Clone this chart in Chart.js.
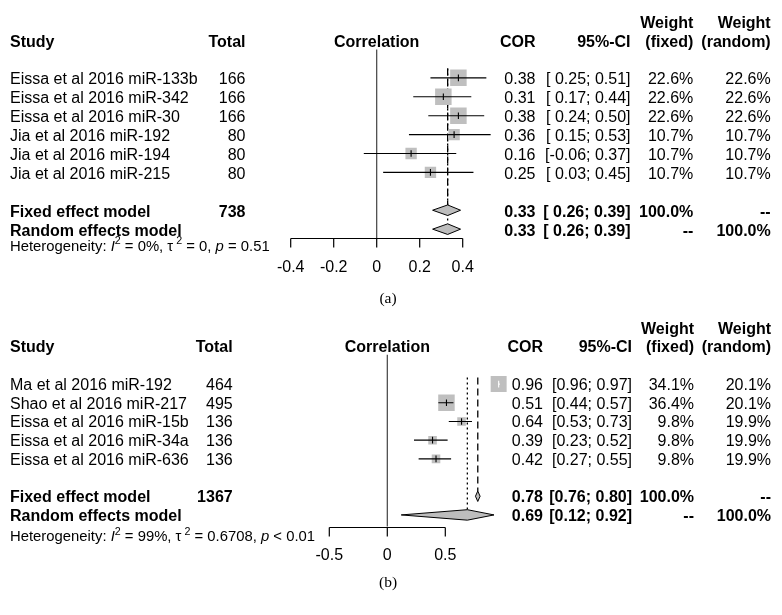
<!DOCTYPE html>
<html><head><meta charset="utf-8">
<script src="https://cdn.jsdelivr.net/npm/chart.js@4.4.1/dist/chart.umd.min.js"></script>
<style>
html,body{margin:0;padding:0;background:#fff;}
#wrap{position:relative;width:782px;height:615px;overflow:hidden;}
canvas{position:absolute;left:0;}
</style></head><body>
<div id="wrap">
<canvas id="cA" width="782" height="307" style="top:0px"></canvas>
<canvas id="cB" width="782" height="308" style="top:307px"></canvas>
</div>
<script>
// ---------- Panel (a) data ----------
const studiesA = ["Eissa et al 2016 miR-133b", "Eissa et al 2016 miR-342", "Eissa et al 2016 miR-30",
                  "Jia et al 2016 miR-192", "Jia et al 2016 miR-194", "Jia et al 2016 miR-215"];
const totalA   = [166, 166, 166, 80, 80, 80];
const corA     = [0.38, 0.31, 0.38, 0.36, 0.16, 0.25];
const lowerA   = [0.25, 0.17, 0.24, 0.15, -0.06, 0.03];
const upperA   = [0.51, 0.44, 0.50, 0.53, 0.37, 0.45];
const wFixedA  = [22.6, 22.6, 22.6, 10.7, 10.7, 10.7];
const wRandomA = [22.6, 22.6, 22.6, 10.7, 10.7, 10.7];
const fixedA   = [0.33, 0.26, 0.39];   // estimate, lower, upper
const randomA  = [0.33, 0.26, 0.39];
const totalFixedA = 738;
const ticksA   = [-0.4, -0.2, 0, 0.2, 0.4];
const hetA     = ["0%", "0", "= 0.51"];  // I^2, tau^2, p

// ---------- Panel (b) data ----------
const studiesB = ["Ma et al 2016 miR-192", "Shao et al 2016 miR-217", "Eissa et al 2016 miR-15b",
                  "Eissa et al 2016 miR-34a", "Eissa et al 2016 miR-636"];
const totalB   = [464, 495, 136, 136, 136];
const corB     = [0.96, 0.51, 0.64, 0.39, 0.42];
const lowerB   = [0.96, 0.44, 0.53, 0.23, 0.27];
const upperB   = [0.97, 0.57, 0.73, 0.52, 0.55];
const wFixedB  = [34.1, 36.4, 9.8, 9.8, 9.8];
const wRandomB = [20.1, 20.1, 19.9, 19.9, 19.9];
const fixedB   = [0.78, 0.76, 0.80];
const randomB  = [0.69, 0.12, 0.92];
const totalFixedB = 1367;
const ticksB   = [-0.5, 0, 0.5];
const hetB     = ["99%", "0.6708", "< 0.01"];

// ---------- styling / layout ----------
const SANS = '"Liberation Sans", Arial, Helvetica, sans-serif';
const SERIF = '"Liberation Serif", "Times New Roman", serif';
const FS = 16, FS_HET = 14.85;
const MAXBOX = 16.5;      // px side of the largest box
const DH = 0.28;          // diamond half-height in row units
const BOX_COL = '#bfbfbf', DIA_COL = '#bdbdbd';

const panelA = {
  canvas: 'cA', H: 307, caption: '(a)',
  studies: studiesA, totals: totalA, cor: corA, lower: lowerA, upper: upperA,
  wFixed: wFixedA, wRandom: wRandomA, fixed: fixedA, random: randomA,
  totalFixed: totalFixedA, ticks: ticksA, het: hetA,
  zeroPx: 376.7, ppu: 215, xMin: -0.5, xMax: 0.6,
  row0: 74.6, step: 19.45, yMin: -3.5, yMax: 11.5,
  axisRow: 8.48, tickLabelRow: 9.94, hetRow: 8.85, captionY: 297,
  refTop: -0.5, zeroTop: -1.5, textDy: 0.8, padCI: true,
  cols: {total: 245.5, cor: 535.5, ci: 630.5, wf: 693.3, wr: 770.7}
};
const panelB = {
  canvas: 'cB', H: 308, caption: '(b)',
  studies: studiesB, totals: totalB, cor: corB, lower: lowerB, upper: upperB,
  wFixed: wFixedB, wRandom: wRandomB, fixed: fixedB, random: randomB,
  totalFixed: totalFixedB, ticks: ticksB, het: hetB,
  zeroPx: 387.3, ppu: 116, xMin: -0.6, xMax: 1.05,
  row0: 74.7, step: 18.9, yMin: -3.5, yMax: 11.5,
  axisRow: 7.62, tickLabelRow: 9.13, hetRow: 8.1, captionY: 274.7,
  refTop: -0.35, zeroTop: -1.57, textDy: 0, padCI: false,
  cols: {total: 232.7, cor: 543, ci: 632, wf: 694, wr: 771}
};

function f2(v) { return v.toFixed(2); }
function ciText(lo, hi, pad) { return '[' + (pad && lo >= 0 ? ' ' : '') + f2(lo) + '; ' + f2(hi) + ']'; }

function makePlugin(P) {
  return {
    id: 'forestText',
    afterDatasetsDraw(chart) {
      const ctx = chart.ctx, xs = chart.scales.x, ys = chart.scales.y;
      const n = P.studies.length, fr = n + 1, rr = n + 2;
      ctx.save();
      ctx.fillStyle = '#000';
      function txt(s, x, row, align, bold, size, family, yAbs) {
        size = size || FS;
        ctx.font = (bold ? 'bold ' : '') + size + 'px ' + (family || SANS);
        ctx.textAlign = align; ctx.textBaseline = 'alphabetic';
        const y = yAbs !== undefined ? yAbs : ys.getPixelForValue(row) + P.textDy;
        ctx.fillText(s, x, y + 0.358 * size);
      }
      const C = P.cols;
      // headers
      txt('Study', 10, -2, 'left', true);
      txt('Total', C.total, -2, 'right', true);
      txt('Correlation', xs.getPixelForValue(0), -2, 'center', true);
      txt('COR', C.cor, -2, 'right', true);
      txt('95%-CI', C.ci, -2, 'right', true);
      txt('Weight', C.wf, -3, 'right', true);
      txt('(fixed)', C.wf, -2, 'right', true);
      txt('Weight', C.wr, -3, 'right', true);
      txt('(random)', C.wr, -2, 'right', true);
      // study rows
      for (let i = 0; i < n; i++) {
        txt(P.studies[i], 10, i, 'left');
        txt(String(P.totals[i]), C.total, i, 'right');
        txt(f2(P.cor[i]), C.cor, i, 'right');
        txt(ciText(P.lower[i], P.upper[i], P.padCI), C.ci, i, 'right');
        txt(P.wFixed[i].toFixed(1) + '%', C.wf, i, 'right');
        txt(P.wRandom[i].toFixed(1) + '%', C.wr, i, 'right');
      }
      // pooled rows
      txt('Fixed effect model', 10, fr, 'left', true);
      txt(String(P.totalFixed), C.total, fr, 'right', true);
      txt(f2(P.fixed[0]), C.cor, fr, 'right', true);
      txt(ciText(P.fixed[1], P.fixed[2], P.padCI), C.ci, fr, 'right', true);
      txt('100.0%', C.wf, fr, 'right', true);
      txt('--', C.wr, fr, 'right', true);
      txt('Random effects model', 10, rr, 'left', true);
      txt(f2(P.random[0]), C.cor, rr, 'right', true);
      txt(ciText(P.random[1], P.random[2], P.padCI), C.ci, rr, 'right', true);
      txt('--', C.wf, rr, 'right', true);
      txt('100.0%', C.wr, rr, 'right', true);
      // heterogeneity (rich text)
      const hy = ys.getPixelForValue(P.hetRow) + 0.358 * FS_HET;
      const parts = [
        {t: 'Heterogeneity: '}, {t: 'I', it: true}, {t: '2', sup: true},
        {t: ' = ' + P.het[0] + ', '}, {t: '\u03C4'}, {t: '2', sup: true, dx: 3},
        {t: ' = ' + P.het[1] + ', '}, {t: 'p', it: true}, {t: ' ' + P.het[2]}
      ];
      let cx = 10;
      ctx.textAlign = 'left';
      for (const p of parts) {
        const sz = p.sup ? FS_HET * 0.72 : FS_HET;
        ctx.font = (p.it ? 'italic ' : '') + sz + 'px ' + SANS;
        cx += p.dx || 0;
        ctx.fillText(p.t, cx, hy - (p.sup ? FS_HET * 0.42 : 0));
        cx += ctx.measureText(p.t).width;
      }
      // x axis
      const ay = Math.round(ys.getPixelForValue(P.axisRow)) + 0.5;
      const tk = P.ticks;
      ctx.strokeStyle = '#000'; ctx.lineWidth = 1.2;
      ctx.beginPath();
      ctx.moveTo(xs.getPixelForValue(tk[0]), ay);
      ctx.lineTo(xs.getPixelForValue(tk[tk.length - 1]), ay);
      for (const t of tk) {
        const px = xs.getPixelForValue(t);
        ctx.moveTo(px, ay); ctx.lineTo(px, ay + 9);
      }
      ctx.stroke();
      for (const t of tk) {
        txt(String(t), xs.getPixelForValue(t), P.tickLabelRow, 'center', false, FS, SANS,
            ys.getPixelForValue(P.tickLabelRow));
      }
      // caption
      txt(P.caption, 388, 0, 'center', false, 15.5, SERIF, P.captionY);
      ctx.restore();
    }
  };
}

function buildChart(P) {
  const n = P.studies.length, fr = n + 1, rr = n + 2;
  const maxW = Math.max(...P.wFixed);
  const side = P.wFixed.map(w => MAXBOX * Math.sqrt(w / maxW));
  const inside = P.lower.map((lo, i) => (P.upper[i] - lo) * P.ppu < side[i] * 0.9);
  const ciData = [];
  P.lower.forEach((lo, i) => { ciData.push({x: lo, y: i}, {x: P.upper[i], y: i}, {x: NaN, y: NaN}); });
  const pts = P.cor.map((c, i) => ({x: c, y: i}));
  const diamond = (d, r) => [{x: d[1], y: r}, {x: d[0], y: r - DH}, {x: d[2], y: r}, {x: d[0], y: r + DH}, {x: d[1], y: r}];
  const lineBase = {type: 'line', pointRadius: 0, pointHoverRadius: 0, tension: 0, fill: false};

  const datasets = [
    Object.assign({}, lineBase, {data: diamond(P.fixed, fr), fill: 'shape', backgroundColor: DIA_COL,
      borderColor: '#000', borderWidth: 1, order: 0}),
    Object.assign({}, lineBase, {data: diamond(P.random, rr), fill: 'shape', backgroundColor: DIA_COL,
      borderColor: '#000', borderWidth: 1, order: 0}),
    {type: 'scatter', data: pts, pointStyle: 'line', pointRotation: 90, pointRadius: 3.3, pointHoverRadius: 3.3,
      pointBorderWidth: 1.1, pointBorderColor: inside.map(b => b ? '#fff' : '#000'), order: 1},
    Object.assign({}, lineBase, {data: ciData, borderColor: '#000', borderWidth: 1.1, spanGaps: false,
      segment: {borderColor: c => inside[Math.floor(c.p0DataIndex / 3)] ? '#fff' : undefined}, order: 2}),
    {type: 'scatter', data: pts, pointStyle: 'rect', pointRadius: side.map(s => s / Math.SQRT2),
      pointHoverRadius: side.map(s => s / Math.SQRT2),
      pointBackgroundColor: BOX_COL, pointBorderWidth: 0, order: 3},
    Object.assign({}, lineBase, {data: [{x: P.fixed[0], y: P.refTop}, {x: P.fixed[0], y: fr - DH}],
      borderColor: '#000', borderWidth: 1.3, borderDash: [7, 4], order: 4}),
    Object.assign({}, lineBase, {data: [{x: P.random[0], y: P.refTop}, {x: P.random[0], y: rr - DH}],
      borderColor: '#000', borderWidth: 1.3, borderDash: [2, 3], order: 5}),
    Object.assign({}, lineBase, {data: [{x: 0, y: P.zeroTop}, {x: 0, y: P.axisRow}],
      borderColor: '#404040', borderWidth: 1.2, order: 6})
  ];

  const left = P.zeroPx + P.xMin * P.ppu;
  const right = 782 - (P.zeroPx + P.xMax * P.ppu);
  const top = P.row0 + P.yMin * P.step;
  const bottom = P.H - (P.row0 + P.yMax * P.step);

  return new Chart(document.getElementById(P.canvas), {
    type: 'scatter',
    data: {datasets},
    options: {
      responsive: false, animation: false, events: [],
      devicePixelRatio: 1,
      layout: {padding: {left, right, top, bottom}},
      plugins: {legend: {display: false}, tooltip: {enabled: false}},
      scales: {
        x: {type: 'linear', min: P.xMin, max: P.xMax, display: false},
        y: {type: 'linear', min: P.yMin, max: P.yMax, reverse: true, display: false}
      }
    },
    plugins: [makePlugin(P)]
  });
}

buildChart(panelA);
buildChart(panelB);
</script>
</body></html>
